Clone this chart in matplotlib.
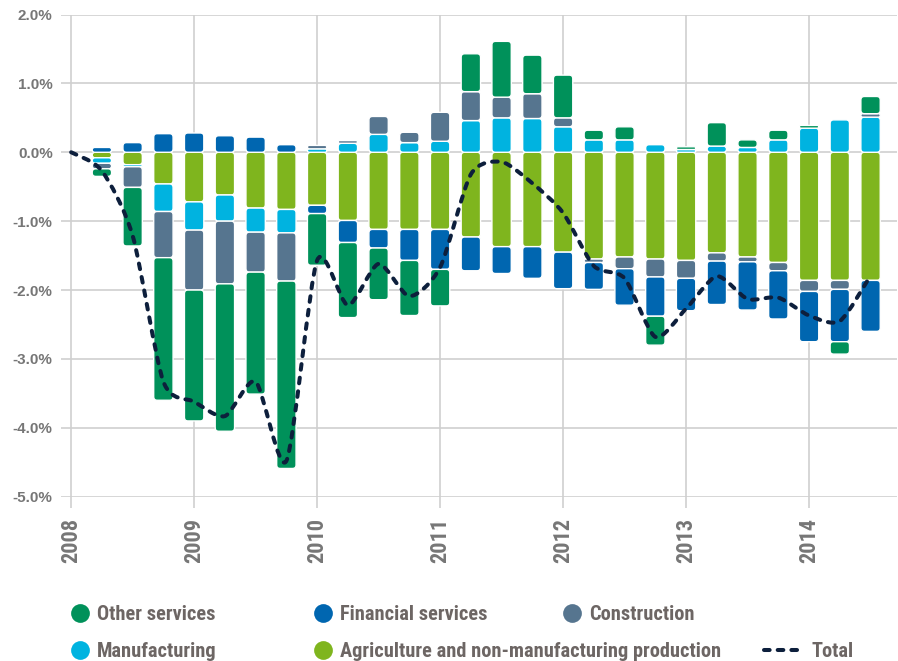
import numpy as np
import matplotlib
matplotlib.use("Agg")
import matplotlib.pyplot as plt
from matplotlib import font_manager
from matplotlib.patches import FancyBboxPatch, PathPatch
from matplotlib.path import Path
from matplotlib.lines import Line2D

# ---------------- data ----------------
quarters = np.arange(27)  # 0 = 2008 Q1 ... 26 = 2014 Q3
year_ticks = [0, 4, 8, 12, 16, 20, 24]
year_labels = ["2008", "2009", "2010", "2011", "2012", "2013", "2014"]
y_ticks = [2, 1, 0, -1, -2, -3, -4, -5]
y_tick_labels = ["2.0%", "1.0%", "0.0%", "-1.0%", "-2.0%", "-3.0%", "-4.0%", "-5.0%"]

other_services = [0, -0.11, -0.85, -2.07, -1.90, -2.14, -1.77, -2.72, -0.75, -1.09, -0.75, -0.80, -0.53,
                  0.55, 0.81, 0.56, 0.62, 0.14, 0.19, -0.42, 0.04, 0.34, 0.11, 0.14, 0.04, -0.18, 0.25]
financial_services = [0, 0.07, 0.14, 0.27, 0.28, 0.24, 0.22, 0.11, -0.12, -0.32, -0.27, -0.45, -0.58,
                      -0.49, -0.39, -0.46, -0.53, -0.39, -0.53, -0.57, -0.47, -0.63, -0.70, -0.70, -0.73, -0.76, -0.74]
construction = [0, -0.08, -0.30, -0.67, -0.87, -0.91, -0.58, -0.70, 0.05, 0.04, 0.26, 0.15, 0.42,
                0.42, 0.30, 0.36, 0.13, -0.05, -0.17, -0.26, -0.26, -0.12, -0.07, -0.12, -0.16, -0.13, 0.05]
manufacturing = [0, -0.08, -0.03, -0.40, -0.41, -0.38, -0.35, -0.34, 0.05, 0.13, 0.26, 0.14, 0.16,
                 0.46, 0.50, 0.49, 0.37, 0.18, 0.18, 0.11, 0.04, 0.09, 0.07, 0.18, 0.35, 0.47, 0.51]
agriculture = [0, -0.08, -0.18, -0.46, -0.72, -0.62, -0.81, -0.83, -0.77, -0.99, -1.12, -1.12, -1.12,
               -1.23, -1.37, -1.37, -1.45, -1.55, -1.52, -1.55, -1.57, -1.46, -1.52, -1.60, -1.86, -1.86, -1.86]
total = [0, -0.27, -1.21, -3.33, -3.62, -3.83, -3.33, -4.48, -1.57, -2.22, -1.62, -2.09, -1.67,
         -0.32, -0.14, -0.45, -0.88, -1.65, -1.83, -2.68, -2.27, -1.80, -2.13, -2.11, -2.37, -2.45, -1.79]

names = ["Agriculture and non-manufacturing production", "Manufacturing", "Construction",
         "Financial services", "Other services"]
series = [agriculture, manufacturing, construction, financial_services, other_services]
colors = ["#7fb51e", "#00b3e0", "#56758f", "#0066b0", "#00915a"]
total_color = "#0d1f3c"

# ---------------- fonts ----------------
avail = {f.name for f in font_manager.fontManager.ttflist}
family = "DejaVu Sans"
for cand in ["Roboto Condensed", "Liberation Sans Narrow", "Open Sans Condensed", "DejaVu Sans Condensed"]:
    if cand in avail:
        family = cand
        break
wide_family = "Liberation Sans" if "Liberation Sans" in avail else "DejaVu Sans"
plt.rcParams["font.family"] = [family, "DejaVu Sans"]
plt.rcParams["font.weight"] = "bold"

W, H = 898, 661
fig = plt.figure(figsize=(W / 100, H / 100), dpi=100)
ax_l, ax_r, ax_t, ax_b = 61, 897, 14.5, 496.7
ax = fig.add_axes([ax_l / W, 1 - ax_b / H, (ax_r - ax_l) / W, (ax_b - ax_t) / H])
ax.set_xlim(-0.33, 26.86)
ax.set_ylim(-5, 2)

grid_c = "#cfcfcf"
tick_c = "#767676"
ax.set_axisbelow(True)
ax.set_yticks(y_ticks)
ax.set_yticklabels(y_tick_labels)
ax.set_xticks(year_ticks)
ax.set_xticklabels(year_labels, rotation=90)
ax.grid(True, color=grid_c, lw=1.2)
for s in ax.spines.values():
    s.set_visible(False)
ax.tick_params(axis="y", length=0, pad=6, labelsize=11, labelcolor=tick_c)
ax.tick_params(axis="x", length=8, width=1.2, color=grid_c, pad=7, labelsize=16, labelcolor=tick_c)
for lab in ax.get_xticklabels():
    lab.set_fontweight("bold")
for lab in ax.get_yticklabels():
    lab.set_fontweight("bold")
    lab.set_family([wide_family, "DejaVu Sans"])

# px per data unit
px_x = (ax_r - ax_l) / (26.86 + 0.33)
px_y = (ax_b - ax_t) / 7.0
aspect = px_x / px_y
r_px = 3.5
r_x = r_px / px_x

pos_bottom = np.zeros(len(quarters))
neg_bottom = np.zeros(len(quarters))
bar_w = 0.63
for vals, col in zip(series, colors):
    v = np.asarray(vals, dtype=float)
    bottom = np.where(v >= 0, pos_bottom, neg_bottom)
    cont = ax.bar(quarters, v, width=bar_w, bottom=bottom, color=col)
    for rect in cont.patches:
        x, y = rect.get_xy()
        w, h = rect.get_width(), rect.get_height()
        rect.set_visible(False)
        if h == 0:
            continue
        if h < 0:
            y, h = y + h, -h
        rs = min(r_x, w / 2, (h / aspect) / 2)
        p = FancyBboxPatch((x, y), w, h, boxstyle=f"round,pad=0,rounding_size={rs}",
                           mutation_aspect=aspect, facecolor=col, edgecolor="white",
                           lw=1.0, zorder=2)
        ax.add_patch(p)
    pos_bottom += np.clip(v, 0, None)
    neg_bottom += np.clip(v, None, 0)

# smoothed total line (bezier through the data points)
pts = np.column_stack([quarters, np.asarray(total, dtype=float)])
n = len(pts)
verts = [pts[0]]
codes = [Path.MOVETO]
k = 1 / 8
for i in range(n - 1):
    p0 = pts[i - 1] if i > 0 else pts[i]
    p1, p2 = pts[i], pts[i + 1]
    p3 = pts[i + 2] if i + 2 < n else pts[i + 1]
    verts += [p1 + (p2 - p0) * k, p2 - (p3 - p1) * k, p2]
    codes += [Path.CURVE4] * 3
dash = (0, (1.4, 2.0))
ax.add_patch(PathPatch(Path(verts, codes), fill=False, edgecolor=total_color, lw=2.9,
                       linestyle=dash, capstyle="round", joinstyle="round", zorder=5))

# ---------------- legend (manual flow layout) ----------------
leg_color = "#6d6664"
leg_size = 14.7
def fx(px):
    return px / W
def fy(py):
    return 1 - py / H

entries = [
    ("Other services", "#00915a", 80, 97, 612.7, 619.5),
    ("Financial services", "#0066b0", 323, 340, 612.7, 619.5),
    ("Construction", "#56758f", 572, 589, 612.7, 619.5),
    ("Manufacturing", "#00b3e0", 80, 97, 650, 657),
    ("Agriculture and non-manufacturing production", "#7fb51e", 323, 340, 650, 657),
]
for label, col, cx, tx, cy, by in entries:
    fig.add_artist(Line2D([fx(cx)], [fy(cy)], marker="o", markersize=13.5, color=col,
                          markeredgewidth=0, linestyle="none", transform=fig.transFigure))
    fig.text(fx(tx), fy(by), label, fontsize=leg_size, color=leg_color, fontweight="bold",
             ha="left", va="baseline")
fig.add_artist(Line2D([fx(764), fx(802)], [fy(650), fy(650)], color=total_color, lw=2.9,
                      linestyle=dash, dash_capstyle="round", transform=fig.transFigure))
fig.text(fx(811), fy(657), "Total", fontsize=leg_size, color=leg_color, fontweight="bold",
         ha="left", va="baseline")

fig.savefig("out.png", dpi=100)
